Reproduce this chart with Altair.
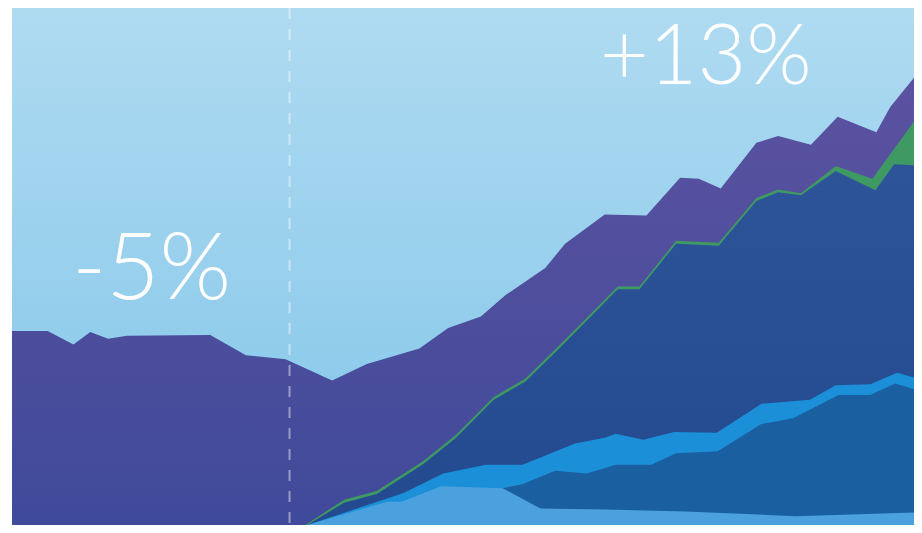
import altair as alt
import pandas as pd

# time positions (t) and stacked top levels (v)
purple_t = [0, 36, 62, 79, 97, 116, 200, 236, 276, 323, 358, 411, 440, 473, 498, 538, 558, 598, 640, 674, 693, 715, 751, 773, 806, 833, 872, 886, 910]
purple_v = [200, 200, 186, 199, 192, 195, 196, 175, 171, 149, 166, 182, 203, 215, 237, 265, 290, 320, 319, 358, 357, 347, 394, 401, 392, 421, 405, 431, 461]

green_t = [296, 335, 368, 415, 448, 486, 518, 551, 588, 611, 633, 670, 713, 751, 773, 796, 831, 868, 910]
green_v = [0, 26, 35, 66, 93, 132, 151, 184, 222, 246, 246, 293, 291, 337, 346, 342, 370, 357, 416]

navy_t = [298, 335, 368, 415, 448, 486, 518, 551, 588, 611, 633, 670, 713, 751, 773, 796, 831, 871, 890, 910]
navy_v = [0, 23, 32, 63, 90, 129, 148, 181, 219, 243, 243, 290, 288, 334, 343, 340, 365, 345, 372, 371]

bright_t = [298, 395, 435, 478, 515, 568, 598, 609, 637, 668, 711, 756, 805, 831, 866, 893, 910]
bright_v = [0, 33, 53, 62, 62, 84, 90, 94, 88, 96, 95, 125, 129, 144, 145, 157, 152]

teal_t = [495, 515, 548, 580, 609, 645, 670, 712, 756, 788, 834, 866, 891, 910]
teal_v = [38, 42, 56, 53, 62, 62, 74, 76, 104, 110, 134, 134, 146, 140]

light_t = [298, 378, 393, 433, 495, 533, 598, 680, 791, 910]
light_v = [0, 24, 24, 40, 38, 17, 16, 14, 9, 13]

divider_t = [280]
before_label = ["-5%"]
before_t = [141]
before_v = [233]
after_label = ["+13%"]
after_t = [700]
after_v = [455]

W, H = 902, 517
xs = alt.Scale(domain=[0, 910], nice=False, zero=False, padding=0)
ys = alt.Scale(domain=[0, 533], nice=False, zero=True, padding=0)


def grad(top, bottom):
    return alt.Gradient(
        gradient="linear",
        stops=[alt.GradientStop(color=top, offset=0), alt.GradientStop(color=bottom, offset=1)],
        x1=0, x2=0, y1=0, y2=1,
    )


def area(ts, vs, fill):
    df = pd.DataFrame({"t": ts, "v": vs})
    return alt.Chart(df).mark_area(fill=fill, stroke=None, interpolate="linear").encode(
        x=alt.X("t:Q", scale=xs, axis=None),
        y=alt.Y("v:Q", scale=ys, axis=None, stack=None),
    )


def label(texts, ts, vs, size):
    df = pd.DataFrame({"label": texts, "t": ts, "v": vs})
    return alt.Chart(df).mark_text(
        font="Lato", fontWeight=300, fontSize=size, color="white", align="center", baseline="alphabetic"
    ).encode(
        x=alt.X("t:Q", scale=xs, axis=None),
        y=alt.Y("v:Q", scale=ys, axis=None),
        text="label:N",
    )


bg = alt.Chart(pd.DataFrame({"a": [0]})).mark_rect(fill=grad("#afdbf1", "#82c5e9")).encode(
    x=alt.value(0), x2=alt.value(W), y=alt.value(0), y2=alt.value(H)
)

layers = [
    bg,
    area(purple_t, purple_v, grad("#5b52a0", "#404a9a")),
    area(green_t, green_v, "#3e9a62"),
    area(navy_t, navy_v, grad("#2d5499", "#23498f")),
    area(bright_t, bright_v, "#1b8fd8"),
    area(teal_t, teal_v, "#1a5f9f"),
    area(light_t, light_v, "#4aa1dd"),
]

rule = alt.Chart(pd.DataFrame({"t": divider_t})).mark_rule(
    stroke="white", strokeOpacity=0.45, strokeWidth=2, strokeDash=[11, 10]
).encode(x=alt.X("t:Q", scale=xs, axis=None))

chart = alt.layer(
    *layers, rule,
    label(before_label, before_t, before_v, 92),
    label(after_label, after_t, after_v, 84),
).properties(
    width=W, height=H, autosize="none",
    padding={"left": 4, "top": 0, "right": 0, "bottom": 0},
    background="white",
).configure_view(stroke=None)

chart.save("out.html", embed_options={"renderer": "svg", "actions": False})
